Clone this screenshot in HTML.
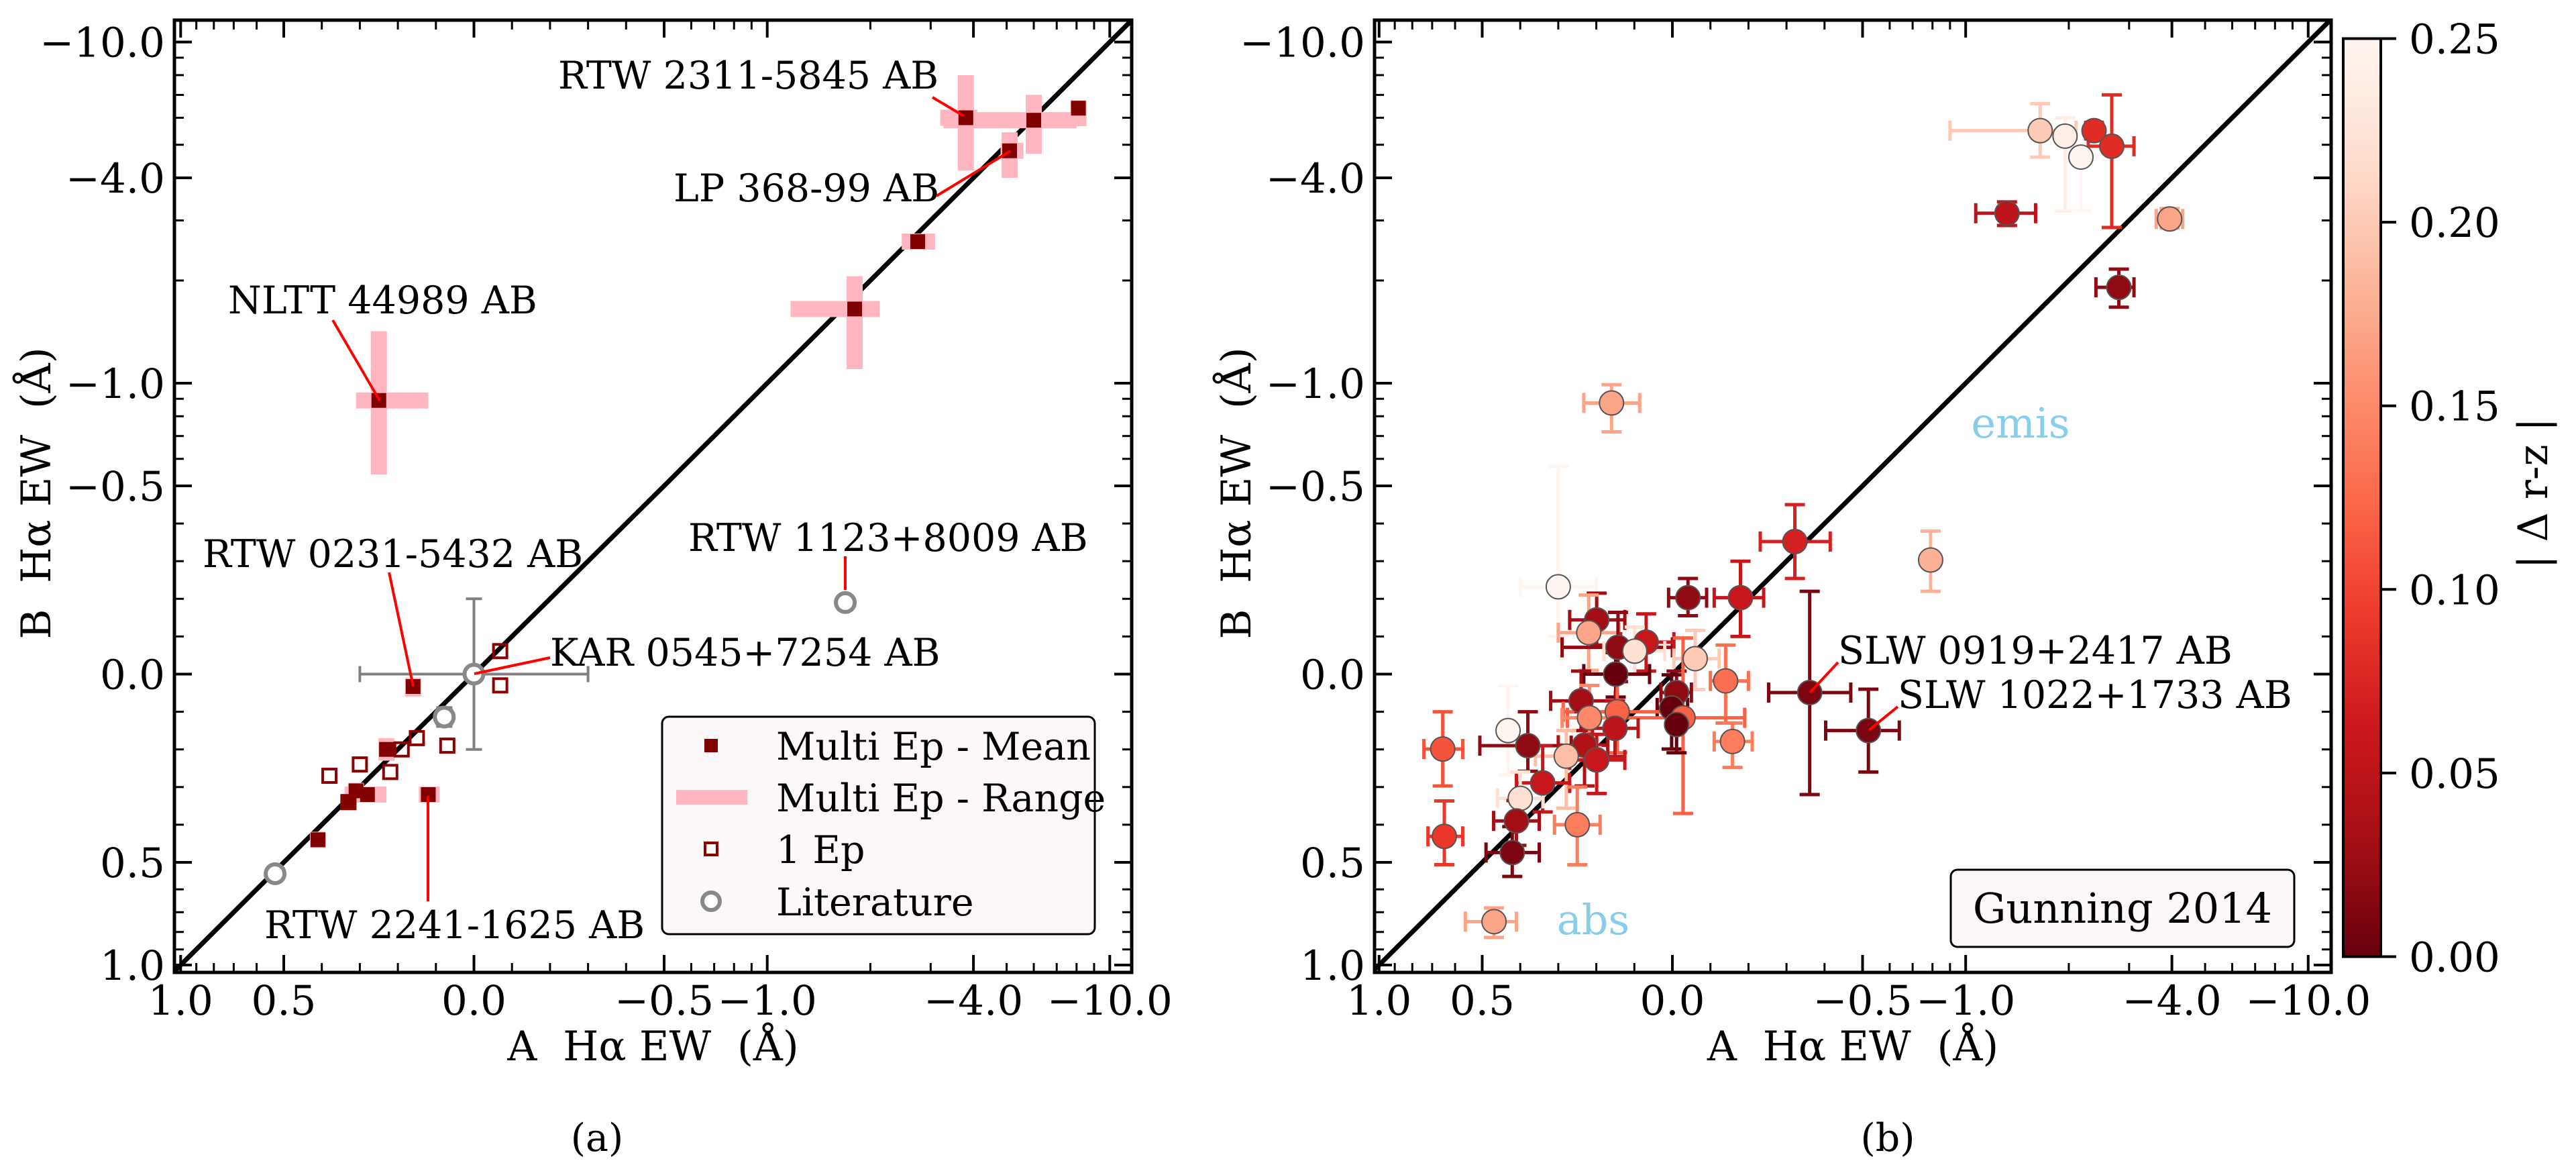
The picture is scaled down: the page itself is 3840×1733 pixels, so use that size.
<!DOCTYPE html>
<html><head><meta charset="utf-8"><style>
html,body{margin:0;padding:0;background:#fff;}
svg{display:block;font-family:"DejaVu Serif","Liberation Serif",serif;}
text{white-space:pre;}
</style></head><body>
<svg id="fig" width="3840" height="1733" viewBox="0 0 3840 1733" xmlns="http://www.w3.org/2000/svg"></svg>
<script>
// ---------- Panel (a) data ----------
const meanX = [-3.8,-6.0,-8.1,-5.1,-2.75,-1.8,0.25,0.16,0.23,0.28,0.31,0.33,0.41,0.12];
const meanY = [-6.0,-5.9,-6.4,-4.8,-2.6,-1.65,-0.89,0.033,0.20,0.32,0.31,0.34,0.44,0.32];
const rangeXlo = [-3.2,-3.27,-7.7,-4.8,-2.47,-1.17,0.31,0.18,0.25,0.34,0.33,0.35,0.43,0.145];
const rangeXhi = [-4.1,-8.0,-8.4,-5.6,-3.09,-2.13,0.12,0.14,0.21,0.23,0.29,0.31,0.39,0.09];
const rangeYlo = [-8.0,-7.0,-6.75,-5.44,-2.7,-2.06,-1.42,0.01,0.17,0.30,0.29,0.32,0.42,0.30];
const rangeYhi = [-4.2,-4.7,-5.67,-4.0,-2.5,-1.1,-0.54,0.06,0.23,0.34,0.33,0.36,0.46,0.34];
const oneEpX = [-0.069,-0.069,0.15,0.19,0.07,0.30,0.22,0.38,0.33];
const oneEpY = [-0.061,0.03,0.17,0.20,0.19,0.24,0.26,0.27,0.34];
const litX = [0,0.078,-1.69,0.53];
const litY = [0,0.114,-0.19,0.54];
const litXerr = [0.3,0.02,0,0];
const litYerr = [0.2,0.025,0,0];
// ---------- Panel (b) data ----------
const gX   = [-1.65,-1.95,-2.17,-2.37,-2.67,-1.32,-3.94,-2.8,0.16,-0.322,-0.79,0.30,-0.041,-0.179,0.199,0.22,0.143,0.069,0.099,-0.06,0.149,-0.14,-0.011,0.24,0.002,0.145,-0.028,0.218,-0.011,0.151,0.432,0.652,0.38,0.231,-0.158,0.279,0.199,0.341,0.40,0.41,0.25,0.645,0.421,0.469,-0.361,-0.52];
const gY   = [-5.5,-5.3,-4.6,-5.5,-4.95,-3.15,-3.03,-1.91,-0.875,-0.352,-0.303,-0.232,-0.203,-0.203,-0.144,-0.11,-0.071,-0.085,-0.061,-0.041,0,0.018,0.049,0.071,0.09,0.10,0.116,0.116,0.134,0.144,0.15,0.199,0.19,0.189,0.179,0.218,0.228,0.289,0.33,0.39,0.40,0.431,0.474,0.746,0.049,0.15];
const gXlo = [-0.9,-1.9,-2.1,-2.25,-2.28,-1.07,-3.6,-2.4,0.233,-0.231,-0.79,0.40,0.01,-0.11,0.27,0.30,0.29,0.136,0.18,-0.004,0.233,-0.10,0.03,0.32,0.04,0.287,0.276,0.29,-0.011,0.21,0.432,0.74,0.508,0.30,-0.11,0.36,0.27,0.41,0.46,0.47,0.31,0.72,0.49,0.56,-0.253,-0.403];
const gXhi = [-2.1,-2.0,-2.25,-2.5,-3.1,-1.6,-4.3,-3.1,0.086,-0.415,-0.79,0.20,-0.09,-0.24,0.125,0.14,0.0,-0.004,0.02,-0.123,0.06,-0.2,-0.05,0.15,-0.04,0.0,-0.19,0.14,-0.011,0.09,0.432,0.57,0.266,0.17,-0.21,0.19,0.125,0.27,0.34,0.35,0.19,0.57,0.35,0.41,-0.469,-0.64];
const gYlo = [-6.6,-6.0,-5.0,-5.8,-7.0,-3.4,-3.25,-2.16,-0.99,-0.45,-0.38,-0.57,-0.254,-0.30,-0.215,-0.21,-0.164,-0.16,-0.125,-0.116,-0.057,-0.077,-0.008,-0.008,0.002,0.01,-0.096,0.03,0.061,0.071,0.031,0.10,0.100,0.100,0.130,0.150,0.16,0.19,0.26,0.336,0.30,0.337,0.405,0.68,-0.22,0.04];
const gYhi = [-4.6,-3.2,-3.2,-5.2,-2.86,-2.9,-2.85,-1.67,-0.72,-0.254,-0.22,-0.1,-0.155,-0.10,-0.077,-0.01,0.02,-0.008,0.002,0.041,0.061,0.13,0.110,0.150,0.199,0.209,0.37,0.189,0.209,0.219,0.268,0.297,0.258,0.297,0.248,0.356,0.317,0.366,0.396,0.455,0.508,0.508,0.55,0.83,0.32,0.26];
const gC   = [0.20,0.24,0.25,0.08,0.08,0.05,0.17,0.02,0.17,0.07,0.18,0.25,0.02,0.06,0.03,0.17,0.02,0.06,0.22,0.20,0.0,0.13,0.02,0.03,0.0,0.12,0.12,0.15,0.0,0.05,0.25,0.11,0.02,0.04,0.14,0.19,0.06,0.06,0.22,0.03,0.14,0.09,0.01,0.17,0.01,0.01];
const cbTicks = [0.00,0.05,0.10,0.15,0.20,0.25];
const xMajor = [1,0.5,0,-0.5,-1,-4,-10];
const xMajorLab = ["1.0","0.5","0.0","\u22120.5","\u22121.0","\u22124.0","\u221210.0"];
const yMajorLab = ["1.0","0.5","0.0","\u22120.5","\u22121.0","\u22124.0","\u221210.0"];
const minorV = [0.9,0.8,0.7,0.6,0.4,0.3,0.2,0.1,-0.1,-0.2,-0.3,-0.4,-0.6,-0.7,-0.8,-0.9,-2,-3,-5,-6,-7,-8,-9];

const NS="http://www.w3.org/2000/svg";
const svg=document.getElementById('fig');
function mk(tag,attrs,parent){const e=document.createElementNS(NS,tag);for(const k in attrs)e.setAttribute(k,attrs[k]);(parent||svg).appendChild(e);return e;}
function txt(s,attrs,parent){const e=mk('text',attrs,parent);e.textContent=s;return e;}

const FT=30,FB=1449;
const FS=61;
function sx(v,x0){const L=567,D=510.6;if(v>=-0.5&&v<=0.5)return x0-v*L;if(v<-0.5)return x0+0.5*L+D*Math.log10(-v/0.5);return x0-0.5*L-D*Math.log10(v/0.5);}
function sy(v){const y0=1004.5,L=561,D=508.3;if(v>=-0.5&&v<=0.5)return y0+v*L;if(v<-0.5)return y0-0.5*L-D*Math.log10(-v/0.5);return y0+0.5*L+D*Math.log10(v/0.5);}

const REDS=["#fff5f0","#fee0d2","#fcbba1","#fc9272","#fb6a4a","#ef3b2c","#cb181d","#a50f15","#67000d"];
function hex(h){return [parseInt(h.slice(1,3),16),parseInt(h.slice(3,5),16),parseInt(h.slice(5,7),16)];}
function cmap(v){let t=1-Math.max(0,Math.min(1,v/0.25));const p=t*(REDS.length-1);const i=Math.min(REDS.length-2,Math.floor(p));const f=p-i;const a=hex(REDS[i]),b=hex(REDS[i+1]);return 'rgb('+a.map((c,k)=>Math.round(c+(b[k]-c)*f)).join(',')+')';}

function axes(name,L,R,x0){
  const g=mk('g',{});
  
  
  const clipId=name+'-clip';
  const cp=mk('clipPath',{id:clipId},g);mk('rect',{x:L,y:FT,width:R-L,height:FB-FT},cp);
  const dv=[1.04,0.5,-0.5,-11.6];
  const d=mk('polyline',{points:dv.map(v=>sx(v,x0)+','+sy(v)).join(' '),fill:'none',stroke:'#000','stroke-width':7,'clip-path':'url(#'+clipId+')'},g);
  
  
  xMajor.forEach((v,i)=>{
    const X=sx(v,x0),Y=sy(v);
    mk('line',{x1:X,y1:FB,x2:X,y2:FB-26,stroke:'#000','stroke-width':4},g);
    mk('line',{x1:X,y1:FT,x2:X,y2:FT+26,stroke:'#000','stroke-width':4},g);
    mk('line',{x1:L,y1:Y,x2:L+26,y2:Y,stroke:'#000','stroke-width':4},g);
    mk('line',{x1:R,y1:Y,x2:R-26,y2:Y,stroke:'#000','stroke-width':4},g);
    const tl=txt(xMajorLab[i],{x:X,y:1512,'font-size':FS,'text-anchor':'middle'},g);
    
    
    const yl=txt(yMajorLab[i],{x:L-14,y:Y+22,'font-size':FS,'text-anchor':'end'},g);
    
    
  });
  minorV.forEach(v=>{
    const X=sx(v,x0),Y=sy(v);
    mk('line',{x1:X,y1:FB,x2:X,y2:FB-14,stroke:'#000','stroke-width':3},g);
    mk('line',{x1:X,y1:FT,x2:X,y2:FT+14,stroke:'#000','stroke-width':3},g);
    mk('line',{x1:L,y1:Y,x2:L+14,y2:Y,stroke:'#000','stroke-width':3},g);
    mk('line',{x1:R,y1:Y,x2:R-14,y2:Y,stroke:'#000','stroke-width':3},g);
  });
  const fr=mk('rect',{x:L,y:FT,width:R-L,height:FB-FT,fill:'none',stroke:'#000','stroke-width':5},g);
  
  
  const xl=txt('A  H\u03b1 EW  (\u00c5)',{x:(L+R)/2,y:1580,'font-size':FS,'text-anchor':'middle'},g);
  
  
  const yl=txt('B  H\u03b1 EW  (\u00c5)',{x:0,y:0,'font-size':FS,'text-anchor':'middle','transform':'translate('+(L-185)+',735) rotate(-90)'},g);
  
  
  return {g,clipId};
}
function annot(label,tx,ty,lx1,ly1,lx2,ly2,parent,nm){
  const l=mk('line',{x1:lx1,y1:ly1,x2:lx2,y2:ly2,stroke:'#ff0000','stroke-width':4},parent);
  
  
  const t=txt(label,{x:tx,y:ty,'font-size':57},parent);
  
  
}

// ---------- Panel (a) ----------
const xa=706.5;
const A=axes('panel-a',260,1687,xa);
const ga=mk('g',{'clip-path':'url(#'+A.clipId+')'},A.g);
for(let i=0;i<meanX.length;i++){
  const X=sx(meanX[i],xa),Y=sy(meanY[i]);
  const h=mk('line',{x1:sx(rangeXlo[i],xa),y1:Y,x2:sx(rangeXhi[i],xa),y2:Y,stroke:'#ffb6c1','stroke-width':24},ga);
  
  
  const v=mk('line',{x1:X,y1:sy(rangeYlo[i]),x2:X,y2:sy(rangeYhi[i]),stroke:'#ffb6c1','stroke-width':24},ga);
  
  
}
for(let i=0;i<meanX.length;i++){
  const X=sx(meanX[i],xa),Y=sy(meanY[i]);
  const r=mk('rect',{x:X-11,y:Y-11,width:22,height:22,fill:'#800000'},ga);
  
  
}
for(let i=0;i<oneEpX.length;i++){
  const X=sx(oneEpX[i],xa),Y=sy(oneEpY[i]);
  const r=mk('rect',{x:X-10,y:Y-10,width:20,height:20,fill:'none',stroke:'#8b0000','stroke-width':4},ga);
  
  
}
for(let i=0;i<litX.length;i++){
  const X=sx(litX[i],xa),Y=sy(litY[i]);
  if(litXerr[i]>0){
    const x1=sx(litX[i]+litXerr[i],xa),x2=sx(litX[i]-litXerr[i],xa),y1=sy(litY[i]-litYerr[i]),y2=sy(litY[i]+litYerr[i]);
    const e=mk('path',{d:`M${x1},${Y}H${x2}M${X},${y1}V${y2}M${x1},${Y-12}V${Y+12}M${x2},${Y-12}V${Y+12}M${X-12},${y1}H${X+12}M${X-12},${y2}H${X+12}`,stroke:'#808080','stroke-width':4,fill:'none'},ga);
    
    
  }
  const c=mk('circle',{cx:X,cy:Y,r:14,fill:'#fff',stroke:'#888','stroke-width':6},ga);
  
  
}
annot('RTW 2311-5845 AB',832,132,1390,145,1437,173,A.g,'rtw-2311');
annot('LP 368-99 AB',1004,300,1396,292,1506,225,A.g,'lp-368');
annot('NLTT 44989 AB',340,467,496,477,566,597,A.g,'nltt-44989');
annot('RTW 0231-5432 AB',302,845,580,853,616,1023,A.g,'rtw-0231');
annot('KAR 0545+7254 AB',820,992,820,980,707,1004,A.g,'kar-0545');
annot('RTW 1123+8009 AB',1026,821,1260,829,1260,879,A.g,'rtw-1123');
annot('RTW 2241-1625 AB',394,1398,638,1343,638,1186,A.g,'rtw-2241');
const lg=mk('g',{},A.g);


mk('rect',{x:987,y:1068,width:645,height:324,rx:10,fill:'#fdf8f8',stroke:'#000','stroke-width':3},lg);
const legE=[['Multi Ep - Mean',1111],['Multi Ep - Range',1188],['1 Ep',1265],['Literature',1343]];
legE.forEach(([t,y],i)=>{
  const ge=mk('g',{},lg);
  
  
  if(i===0)mk('rect',{x:1050,y:y-10,width:20,height:20,fill:'#800000'},ge);
  if(i===1)mk('line',{x1:1008,y1:y,x2:1114,y2:y,stroke:'#ffb6c1','stroke-width':22},ge);
  if(i===2)mk('rect',{x:1051,y:y-9,width:18,height:18,fill:'none',stroke:'#8b0000','stroke-width':4},ge);
  if(i===3)mk('circle',{cx:1060,cy:y,r:13,fill:'#fff',stroke:'#888','stroke-width':6},ge);
  txt(t,{x:1157,y:y+21,'font-size':57},ge);
});
const capA=txt('(a)',{x:890,y:1715,'font-size':57,'text-anchor':'middle'});



// ---------- Panel (b) ----------
const xb=2493;
const B=axes('panel-b',2049,3475,xb);
const gb=mk('g',{'clip-path':'url(#'+B.clipId+')'},B.g);
for(let i=0;i<gX.length;i++){
  const X=sx(gX[i],xb),Y=sy(gY[i]),col=cmap(gC[i]);
  const x1=sx(gXlo[i],xb),x2=sx(gXhi[i],xb),y1=sy(gYlo[i]),y2=sy(gYhi[i]);
  const e=mk('path',{d:`M${x1},${Y}H${x2}M${X},${y1}V${y2}M${x1},${Y-15}V${Y+15}M${x2},${Y-15}V${Y+15}M${X-15},${y1}H${X+15}M${X-15},${y2}H${X+15}`,stroke:col,'stroke-width':5,fill:'none'},gb);
  
  
}
for(let i=0;i<gX.length;i++){
  const c=mk('circle',{cx:sx(gX[i],xb),cy:sy(gY[i]),r:18,fill:cmap(gC[i]),stroke:'#555','stroke-width':2},gb);
  
  
}
annot('SLW 0919+2417 AB',2740,989,2740,987,2698,1032,B.g,'slw-0919');
annot('SLW 1022+1733 AB',2829,1055,2829,1053,2786,1088,B.g,'slw-1022');
const em=txt('emis',{x:3012,y:652,'font-size':62,'text-anchor':'middle',fill:'#87ceeb'},B.g);


const ab=txt('abs',{x:2375,y:1392,'font-size':62,'text-anchor':'middle',fill:'#87ceeb'},B.g);


const gbx=mk('g',{},B.g);


mk('rect',{x:2908,y:1296,width:512,height:115,rx:10,fill:'#fdf8f8',stroke:'#000','stroke-width':3},gbx);
txt('Gunning 2014',{x:3164,y:1375,'font-size':62,'text-anchor':'middle'},gbx);
const cb=mk('g',{});


const defs=mk('defs',{},cb);
const lgd=mk('linearGradient',{id:'cbgrad',x1:0,y1:1,x2:0,y2:0},defs);
for(let k=0;k<=20;k++){mk('stop',{offset:(k/20),'stop-color':cmap(0.25*k/20)},lgd);}
const CT=57.5,CB=1425.5;
mk('rect',{x:3493,y:CT,width:56,height:CB-CT,fill:'url(#cbgrad)',stroke:'#000','stroke-width':4},cb);
cbTicks.forEach(v=>{
  const Y=CB-(CB-CT)*v/0.25;
  mk('line',{x1:3549,y1:Y,x2:3572,y2:Y,stroke:'#000','stroke-width':4},cb);
  const t=txt(v.toFixed(2),{x:3591,y:Y+22,'font-size':FS},cb);
  
  
});
const cbl=txt('| \u0394 r-z |',{x:0,y:0,'font-size':FS,'text-anchor':'middle',transform:'translate(3797,735) rotate(-90)'},cb);


const capB=txt('(b)',{x:2814,y:1715,'font-size':57,'text-anchor':'middle'});


</script>
</body></html>
